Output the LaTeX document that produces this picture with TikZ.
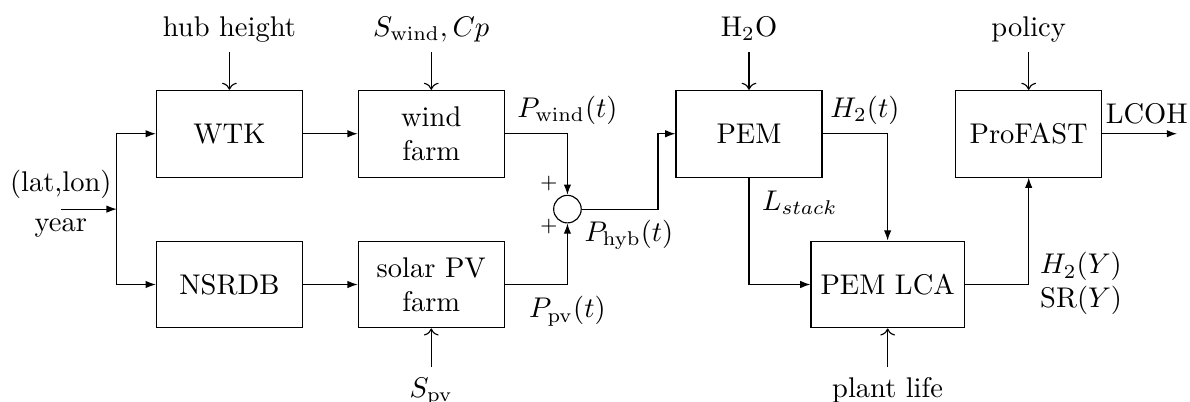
\documentclass[tikz,border=0pt]{standalone}
\usetikzlibrary{arrows.meta,positioning,calc}

\begin{document}
\begin{tikzpicture}[
    block/.style={draw, minimum width=1.8cm, minimum height=1.07cm, align=center},
    sumnode/.style={circle, draw, minimum size=0.34cm, inner sep=0pt},
    signal/.style={-{Latex[length=3.6pt,width=2.6pt]}},
    param/.style={->},
    toplbl/.style={anchor=base, text depth=2pt},
    botlbl/.style={anchor=base, text height=7pt},
    lbl/.style={inner sep=1pt},
    sgn/.style={font=\scriptsize, inner sep=0pt}
]

\useasboundingbox (0,0) rectangle (14.68,4.95);

% ---- blocks ----
\node[block] (wtk) at (2.83,3.30) {WTK};
\node[block] (nsrdb) at (2.83,1.44) {NSRDB};
\node[block] (wind) at (5.32,3.30) {wind\\farm};
\node[block] (pv) at (5.32,1.44) {solar PV\\farm};
\node[sumnode] (sum) at (7.00,2.37) {};
\node[block] (pem) at (9.24,3.30) {PEM};
\node[block] (lca) at (10.95,1.44) {PEM LCA};
\node[block] (profast) at (12.69,3.30) {ProFAST};

% ---- site input ----
\coordinate (site) at (0.75,2.37);
\coordinate (split) at (1.44,2.37);
\node[anchor=south] (latlon) at (site) {(lat,lon)};
\node[anchor=north] (year) at (site) {year};
\draw[signal] (site) -- (split);
\draw[signal] (split) |- (wtk.west);
\draw[signal] (split) |- (nsrdb.west);

% ---- parameters ----
\node[toplbl] (hub) at (2.83,4.50) {hub height};
\node[toplbl] (swind) at (5.32,4.50) {$S_\mathrm{wind}, Cp$};
\node[toplbl] (water) at (9.24,4.50) {H$_2$O};
\node[toplbl] (policy) at (12.69,4.50) {policy};
\node[botlbl] (spv) at (5.32,0.05) {$S_\mathrm{pv}$};
\node[botlbl] (life) at (10.95,0.05) {plant life};
\draw[param] (hub) -- (wtk);
\draw[param] (swind) -- (wind);
\draw[param] (water) -- (pem);
\draw[param] (policy) -- (profast);
\draw[param] (spv) -- (pv);
\draw[param] (life) -- (lca);

% ---- signal flow ----
\draw[signal] (wtk) -- (wind);
\draw[signal] (nsrdb) -- (pv);
\draw[signal] (wind.east) -| (sum.north);
\draw[signal] (pv.east) -| (sum.south);
\draw[signal] (sum.east) -- ++(0.94,0) |- (pem.west);
\draw[signal] (pem.east) -| (lca.north);
\draw[signal] (pem.south) |- (lca.west);
\draw[signal] (lca.east) -| (profast.south);
\coordinate (out) at (14.52,3.30);
\draw[signal] (profast.east) -- (out);

% ---- labels ----
\node[lbl] (pwind) at (7.00,3.59) {$P_\mathrm{wind}(t)$};
\node[lbl] (ppv) at (7.00,1.11) {$P_\mathrm{pv}(t)$};
\node[lbl, anchor=west] (phyb) at (7.17,2.05) {$P_\mathrm{hyb}(t)$};
\node[sgn] (plusa) at (6.77,2.69) {$+$};
\node[sgn] (plusb) at (6.77,2.16) {$+$};
\node[lbl] (h2t) at (10.67,3.59) {$H_2(t)$};
\node[lbl, anchor=west] (lstack) at (9.36,2.45) {$L_{stack}$};
\node[lbl, anchor=west, align=left] (h2y) at (12.79,1.45) {$H_2(Y)$\\SR$(Y)$};
\node[lbl, anchor=west] (lcoh) at (13.60,3.55) {LCOH};

\end{tikzpicture}
\end{document}
